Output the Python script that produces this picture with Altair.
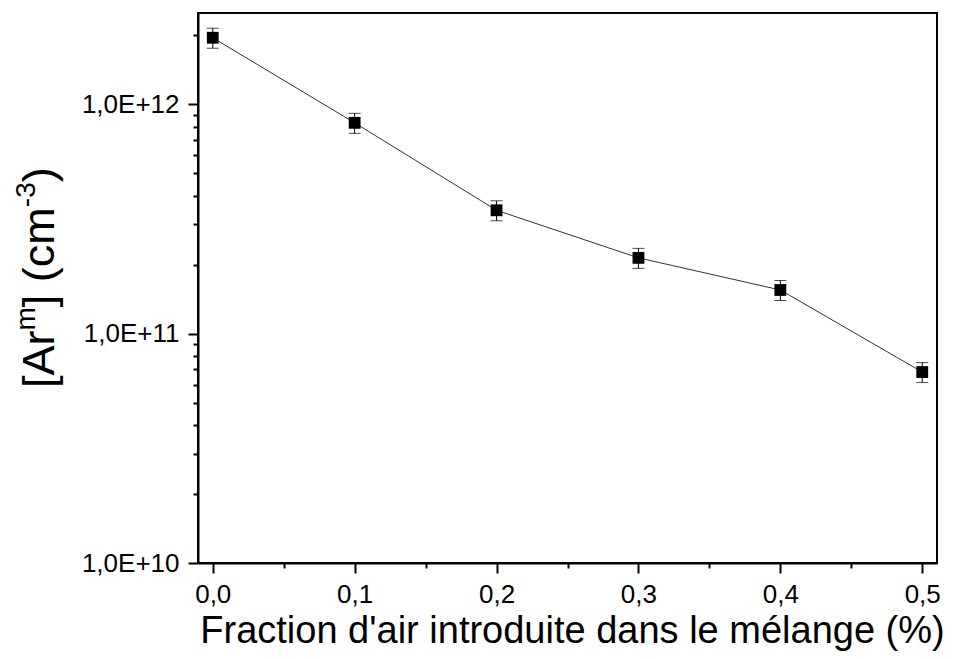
import altair as alt
import pandas as pd

# Data
fraction = [0.0, 0.1, 0.2, 0.3, 0.4, 0.5]
arm = [1.95e12, 8.3e11, 3.45e11, 2.14e11, 1.55e11, 6.8e10]
err = [1.95e11, 8.3e10, 3.45e10, 2.14e10, 1.55e10, 6.8e9]

x_ticks = [0.0, 0.05, 0.1, 0.15, 0.2, 0.25, 0.3, 0.35, 0.4, 0.45, 0.5]
y_ticks = [m * 10**e for e in (10, 11) for m in range(1, 10)] + [1e12, 2e12]

df = pd.DataFrame({"x": fraction, "y": arm, "lo": [a - e for a, e in zip(arm, err)],
                   "hi": [a + e for a, e in zip(arm, err)]})

FONT = "Liberation Sans"
W, H = 739, 550

xs = alt.Scale(domain=[-0.0104, 0.5104], nice=False, zero=False)
ys = alt.Scale(type="log", domain=[1e10, 2.5e12], nice=False)

x_axis = alt.Axis(
    values=x_ticks,
    labelExpr="abs(datum.value*10 - round(datum.value*10)) < 0.001 ? replace(format(datum.value, '.1f'), '.', ',') : ''",
    tickSize={"condition": {"test": "abs(datum.value*10 - round(datum.value*10)) < 0.001", "value": 10}, "value": 5},
    title="Fraction d'air introduite dans le mélange (%)",
    titleFont=FONT, titleFontSize=38, titleFontWeight="normal", titleColor="black",
    titlePadding=5, titleX=374,
    labelFont=FONT, labelFontSize=26, labelColor="black", labelPadding=8,
    grid=False, domainColor="black", domainWidth=2, tickColor="black", tickWidth=2,
    labelFlush=False, labelOverlap=False,
)
y_axis = alt.Axis(
    values=y_ticks,
    labelExpr="abs(log(datum.value)/LN10 - round(log(datum.value)/LN10)) < 0.001 ? '1,0E+' + format(round(log(datum.value)/LN10), 'd') : ''",
    tickSize={"condition": {"test": "abs(log(datum.value)/LN10 - round(log(datum.value)/LN10)) < 0.001", "value": 10}, "value": 5},
    title=None,
    labelFont=FONT, labelFontSize=26, labelColor="black", labelPadding=9,
    grid=False, domainColor="black", domainWidth=2, tickColor="black", tickWidth=2,
    labelFlush=False, labelOverlap=False,
)

base = alt.Chart(df)
line = base.mark_line(color="#333333", strokeWidth=1).encode(
    x=alt.X("x:Q", scale=xs, axis=x_axis), y=alt.Y("y:Q", scale=ys, axis=y_axis))
rule = base.mark_rule(color="black", strokeWidth=1).encode(
    x="x:Q", y="lo:Q", y2="hi:Q")
cap_lo = base.mark_tick(color="black", thickness=1, size=12, orient="horizontal").encode(x="x:Q", y="lo:Q")
cap_hi = base.mark_tick(color="black", thickness=1, size=12, orient="horizontal").encode(x="x:Q", y="hi:Q")
pts = base.mark_point(shape="square", filled=True, color="black", size=140, opacity=1).encode(
    x="x:Q", y="y:Q")

# Y title "[Ar^m] (cm^-3)" built from rotated text pieces
AW = {"[": .278, "]": .278, "A": .667, "r": .333, " ": .278, "(": .333, ")": .333,
      "c": .5, "m": .833, "-": .333, "3": .556}
F, S = 45, 28
pieces = [("[Ar", F, 0), ("m", S, 19), ("] (cm", F, 0), ("-3", S, 19), (")", F, 0)]
base_x = 54 - 198
cur_y = 388 - 13
title_layers = []
for txt, size, shift in pieces:
    title_layers.append(
        alt.Chart(pd.DataFrame({"t": [txt]})).mark_text(
            angle=270, align="left", baseline="alphabetic", font=FONT, fontSize=size, color="black"
        ).encode(text="t:N", x=alt.value(base_x - shift), y=alt.value(cur_y))
    )
    cur_y -= sum(AW[c] for c in txt) * size

chart = alt.layer(line, rule, cap_lo, cap_hi, pts, *title_layers).properties(
    width=W, height=H,
    autosize=alt.AutoSizeParams(type="none"),
    padding={"left": 190, "top": 5, "right": 24, "bottom": 88},
    background="white",
).configure_view(stroke="black", strokeWidth=2)

chart.save("out.html", embed_options={"renderer": "svg", "actions": False})
